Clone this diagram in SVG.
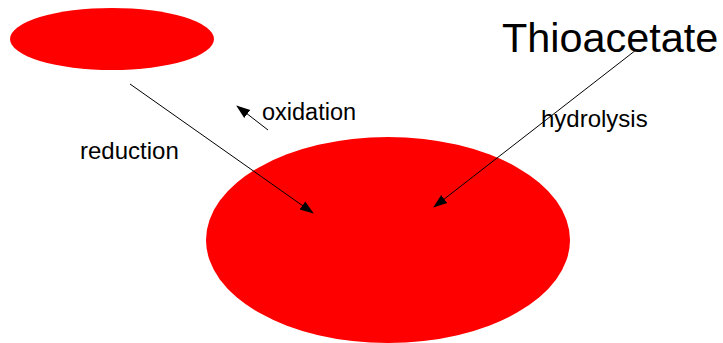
<svg xmlns="http://www.w3.org/2000/svg" width="723" height="343" viewBox="0 0 723 343">
<style>
.blob{fill:#ff0000;}
.lbl{font-family:"Liberation Sans",Arial,sans-serif;fill:#000;}
.conn line{stroke:#000;stroke-width:1;marker-end:url(#ah);}
</style>
<defs>
<marker id="ah" markerWidth="14" markerHeight="12" refX="13" refY="5" orient="auto" markerUnits="userSpaceOnUse" viewBox="0 0 14 10">
<path d="M0,0 L14,5 L0,10 Z" fill="#000"/>
</marker>
</defs>
<rect width="723" height="343" fill="#fff"/>
<g id="small-ellipse"><ellipse class="blob" cx="112" cy="39" rx="102" ry="31"/></g>
<g id="large-ellipse"><ellipse class="blob" cx="388" cy="240" rx="182" ry="103"/></g>
<g id="thioacetate"><text class="lbl" x="502" y="52" font-size="41.4">Thioacetate</text></g>
<g id="oxidation"><text class="lbl" x="262" y="120" font-size="23.5">oxidation</text></g>
<g id="reduction"><text class="lbl" x="80" y="159" font-size="24">reduction</text></g>
<g id="hydrolysis"><text class="lbl" x="541" y="127" font-size="24">hydrolysis</text></g>
<g id="connectors" class="conn">
<line x1="130" y1="84" x2="313" y2="213"/>
<line x1="268" y1="130" x2="237" y2="106"/>
<line x1="636" y1="50" x2="434" y2="207"/>
</g>
</svg>
